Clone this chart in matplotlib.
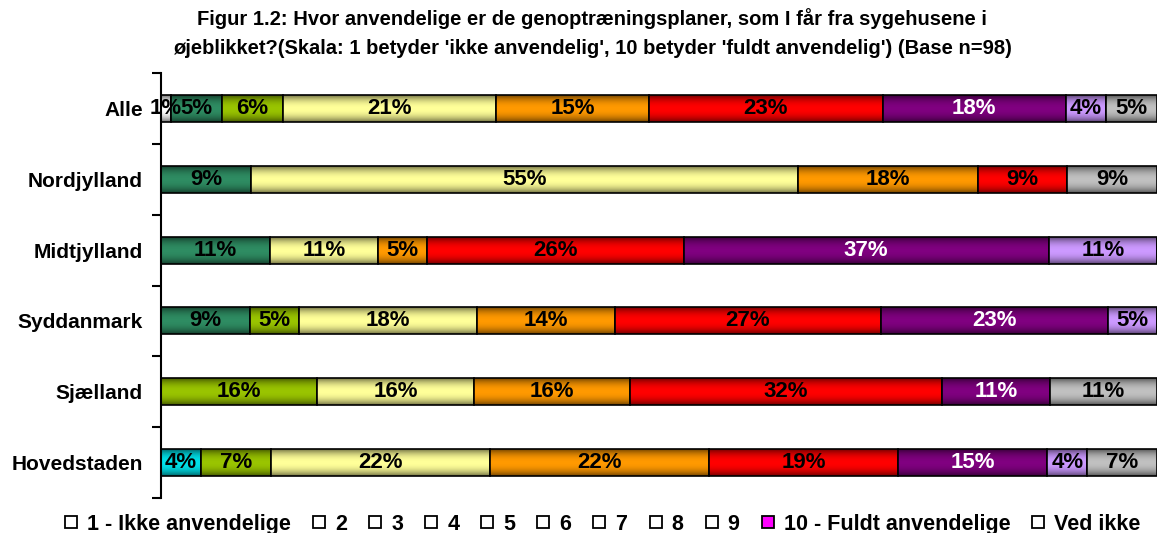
import numpy as np
import matplotlib
matplotlib.use('Agg')
import matplotlib.pyplot as plt
from matplotlib.lines import Line2D

plt.rcParams['font.family'] = ['Liberation Sans', 'DejaVu Sans']

regions = ['Alle', 'Nordjylland', 'Midtjylland', 'Syddanmark', 'Sjælland', 'Hovedstaden']
series_names = ['1 - Ikke anvendelige', '2', '3', '4', '5', '6', '7', '8', '9',
                '10 - Fuldt anvendelige', 'Ved ikke']

# percent per region, one list per answer category
s1 = [1, 0, 0, 0, 0, 0]
s2 = [0, 0, 0, 0, 0, 4]
s3 = [5, 9, 11, 9, 0, 0]
s4 = [6, 0, 0, 5, 16, 7]
s5 = [21, 55, 11, 18, 16, 22]
s6 = [15, 18, 5, 14, 16, 22]
s7 = [23, 9, 26, 27, 32, 19]
s8 = [18, 0, 37, 23, 11, 15]
s9 = [4, 0, 11, 5, 0, 4]
s10 = [0, 0, 0, 0, 0, 0]
ved_ikke = [5, 9, 0, 0, 11, 7]

series = [s1, s2, s3, s4, s5, s6, s7, s8, s9, s10, ved_ikke]
colors = ['#ffffff', '#00e0e8', '#2e8c62', '#99c400', '#ffff99', '#ff9900',
          '#ff0000', '#800080', '#cc99ff', '#ff00ff', '#c0c0c0']
text_colors = ['black'] * 7 + ['white'] + ['black'] * 3

title = ("Figur 1.2: Hvor anvendelige er de genoptræningsplaner, som I får fra sygehusene i\n"
         "øjeblikket?(Skala: 1 betyder 'ikke anvendelig', 10 betyder 'fuldt anvendelig') (Base n=98)")

fig = plt.figure(figsize=(11.57, 5.33), dpi=100)
ax = fig.add_axes([0.1392, 0.0657, 0.8608, 0.7973])

data = np.array(series, dtype=float)
totals = data.sum(axis=0)
shares = data / totals * 100
y = np.arange(len(regions))
bar_h = 0.38

# vertical shading overlay, darker at the top and bottom edge of each bar
g = np.linspace(-1, 1, 64)
shade = np.zeros((64, 1, 4))
shade[:, 0, 3] = 0.55 * np.abs(g) ** 2.2

left = np.zeros(len(regions))
for vals, w, col, tcol in zip(data, shares, colors, text_colors):
    bars = ax.barh(y, w, left=left, height=bar_h, color=col,
                   edgecolor='black', linewidth=1.2, zorder=2)
    for b, v in zip(bars, vals):
        if v <= 0:
            continue
        x0, y0 = b.get_x(), b.get_y()
        im = ax.imshow(shade, extent=(x0, x0 + b.get_width(), y0 + b.get_height(), y0),
                       aspect='auto', zorder=2.5, interpolation='bilinear')
        im.set_clip_path(b)
        ax.text(x0 + b.get_width() / 2, b.get_y() + b.get_height() / 2,
                f'{v:.0f}%', ha='center', va='center', fontsize=16,
                fontweight='bold', color=tcol, zorder=4, clip_on=False)
    left += w

ax.set_xlim(0, 100)
ax.set_ylim(len(regions) - 0.5, -0.5)
ax.set_yticks(y)
ax.set_yticklabels(regions, fontsize=15, fontweight='bold')
ax.set_yticks(np.arange(len(regions) + 1) - 0.5, minor=True)
ax.tick_params(axis='y', which='major', length=0, pad=13)
ax.tick_params(axis='y', which='minor', length=6.5, width=1.5, direction='out')
ax.set_xticks([])
for s in ['top', 'right', 'bottom']:
    ax.spines[s].set_visible(False)
ax.spines['left'].set_linewidth(1.5)
ax.spines['left'].set_zorder(5)

fig.suptitle(title, fontsize=14.5, fontweight='bold', y=0.985, x=0.512,
             linespacing=1.7)

handles = []
for i, name in enumerate(series_names):
    fc = '#ff00ff' if name.startswith('10') else 'white'
    handles.append(Line2D([], [], marker='s', linestyle='none', markersize=9,
                          markerfacecolor=fc, markeredgecolor='black',
                          markeredgewidth=1.3))
fig.legend(handles, series_names, loc='lower center', ncol=len(series_names),
           bbox_to_anchor=(0.52, -0.04), frameon=False, handlelength=0.8,
           handletextpad=0.35, columnspacing=0.9,
           prop={'weight': 'bold', 'size': 15.5})

fig.savefig('out.png', dpi=100)
